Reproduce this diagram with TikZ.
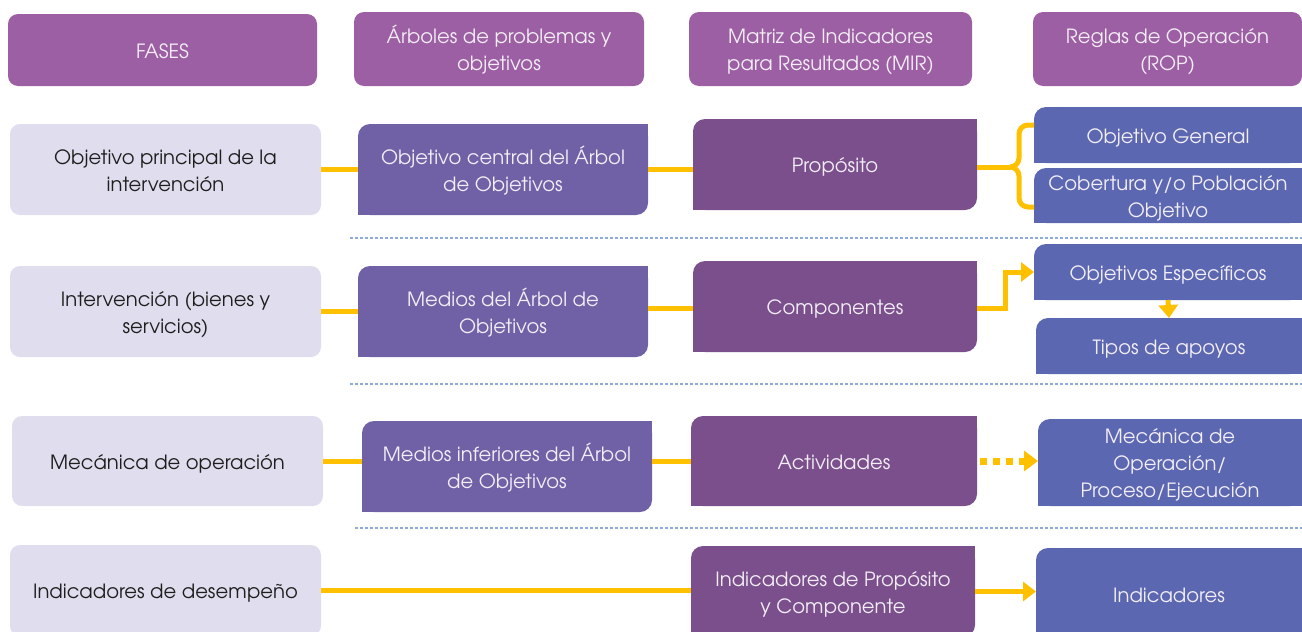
\documentclass[tikz,border=0pt]{standalone}
\usepackage{fontspec}
\setmainfont{texgyreadventor-regular.otf}
\usetikzlibrary{arrows.meta}
\definecolor{hdr}{HTML}{9D5FA3}
\definecolor{lft}{HTML}{E0DEEE}
\definecolor{midc}{HTML}{7060A6}
\definecolor{mirc}{HTML}{7A4F8C}
\definecolor{ropc}{HTML}{5B67B0}
\definecolor{yl}{HTML}{FFC000}
\definecolor{dsh}{HTML}{8EA9DB}
\definecolor{lt}{HTML}{F3EEF6}
\definecolor{dk}{HTML}{1E1E1E}
\newcommand\tx[1]{\raisebox{-3pt}[\height][\depth]{\begin{tabular}{@{}c@{}}#1\end{tabular}}}
\tikzset{
  base/.style={inner sep=0pt, outer sep=0pt, font=\fontsize{19.6}{27}\selectfont},
  hdrbox/.style={base, fill=hdr, rounded corners=10pt, text=lt},
  lftbox/.style={base, fill=lft, rounded corners=10pt, text=dk, minimum width=311pt, minimum height=91pt},
  midbox/.style={base, fill=midc, rounded corners=12pt, text=lt, minimum width=290pt, minimum height=91pt},
  mirbox/.style={base, fill=mirc, rounded corners=12pt, text=lt, minimum width=284pt, minimum height=91pt},
  ropbox/.style={base, fill=ropc, rounded corners=12pt, text=lt},
  conn/.style={draw=yl, line width=5pt},
  arr/.style={conn, -{Triangle[length=13pt,width=19pt]}},
  sep/.style={draw=dsh, line width=1.2pt, dash pattern=on 3pt off 2pt},
}
\newcommand\sqNE[2]{\fill[#2] (#1.north east) rectangle ++(-14,14);}
\newcommand\sqSW[2]{\fill[#2] (#1.south west) rectangle ++(14,-14);}
\newcommand\sqSE[2]{\fill[#2] (#1.south east) rectangle ++(-14,-14);}
\begin{document}
\begin{tikzpicture}[x=1pt,y=-1pt]
\useasboundingbox (0,0) rectangle (1302,632);
\clip (0,0) rectangle (1302,632);
% headers
\node[hdrbox, minimum width=309pt, minimum height=72pt] (h1) at (162.5,50) {\tx{FASES}};
\node[hdrbox, minimum width=290pt, minimum height=74pt] (h2) at (499,49) {\tx{Árboles de problemas y\\objetivos}};
\node[hdrbox, minimum width=283pt, minimum height=74pt] (h3) at (830.5,49) {\tx{Matriz de Indicadores\\para Resultados (MIR)}};
\node[hdrbox, minimum width=269pt, minimum height=74pt] (h4) at (1167.5,49) {\tx{Reglas de Operación\\(ROP)}};
% row 1
\node[lftbox] (L1) at (165.5,169.5) {\tx{Objetivo principal de la\\intervención}};
\node[midbox] (M1) at (503,169.5) {\tx{Objetivo central del Árbol\\de Objetivos}};
\node[mirbox] (P1) at (835,164.5) {\tx{Propósito}};
\node[ropbox, minimum width=268pt, minimum height=56pt] (R1a) at (1168,135) {\tx{Objetivo General}};
\node[ropbox, minimum width=268pt, minimum height=55pt] (R1b) at (1168,195.5) {\tx{Cobertura y/o Población\\Objetivo}};
% row 2
\node[lftbox] (L2) at (165.5,311.5) {\tx{Intervención (bienes y\\servicios)}};
\node[midbox] (M2) at (503,311.5) {\tx{Medios del Árbol de\\Objetivos}};
\node[mirbox] (P2) at (835,306.5) {\tx{Componentes}};
\node[ropbox, minimum width=268pt, minimum height=56pt] (R2a) at (1168,272) {\tx{Objetivos Específicos}};
\node[ropbox, minimum width=266pt, minimum height=56pt] (R2b) at (1169,346) {\tx{Tipos de apoyos}};
% row 3
\node[lftbox, minimum height=90pt] (L3) at (167.5,461) {\tx{Mecánica de operación}};
\node[midbox] (M3) at (507,466.5) {\tx{Medios inferiores del Árbol\\de Objetivos}};
\node[mirbox, minimum width=286pt, minimum height=90pt] (P3) at (834,461) {\tx{Actividades}};
\node[ropbox, minimum width=264pt, minimum height=87pt] (R3) at (1170,462.5) {\tx{Mecánica de\\Operación/\\Proceso/Ejecución}};
% row 4
\node[lftbox] (L4) at (165.5,590.5) {\tx{Indicadores de desempeño}};
\node[mirbox] (P4) at (833,591.5) {\tx{Indicadores de Propósito\\y Componente}};
\node[ropbox, minimum width=266pt, minimum height=92pt] (R4) at (1169,594) {\tx{Indicadores}};
% sharp corners
\foreach \n/\c in {M1/midc,M2/midc,M3/midc,P1/mirc,P2/mirc,P3/mirc,P4/mirc}{\sqNE{\n}{\c}\sqSW{\n}{\c}}
\foreach \n in {R1a,R1b,R2a,R2b,R3,R4}{\sqNE{\n}{ropc}\sqSW{\n}{ropc}\sqSE{\n}{ropc}}
% separators
\coordinate (s1a) at (350,238); \coordinate (s1b) at (1302,238);
\coordinate (s2a) at (350,384); \coordinate (s2b) at (1302,384);
\coordinate (s3a) at (355,528); \coordinate (s3b) at (1302,528);
\draw[sep] (s1a) -- (s1b);
\draw[sep] (s2a) -- (s2b);
\draw[sep] (s3a) -- (s3b);
% row 1 connectors
\draw[conn] (L1.east) -- (M1.west);
\draw[conn] (M1.east) -- (M1.east -| P1.west);
\coordinate (bm) at (1010,167);
\coordinate (bt) at (1034,125);
\coordinate (bb) at (1034,207);
\draw[conn] (P1.east |- bm) -- (bm);
\draw[conn, rounded corners=9pt] (bt) -- (1019,125) -- (1019,167) -- (bm);
\draw[conn, rounded corners=9pt] (bb) -- (1019,207) -- (1019,167) -- (bm);
% row 2
\draw[conn] (L2.east) -- (M2.west);
\draw[conn] (M2.east |- 0,308) -- (P2.west |- 0,308);
\draw[arr] (P2.east |- 0,308) -| (1005,272) -- (R2a.west |- 0,272);
\draw[arr] (R2a.south) -- (R2b.north);
% row 3
\draw[conn] (L3.east) -- (L3.east -| M3.west);
\draw[conn] (M3.east |- P3.west) -- (P3.west);
\draw[conn, line width=7pt, dash pattern=on 7pt off 6pt, -{Triangle[length=14pt,width=20pt]}] ([xshift=3pt]P3.east) -- (P3.east -| R3.west);
% row 4
\draw[conn] (L4.east) -- (L4.east -| P4.west);
\draw[arr] (P4.east) -- (P4.east -| R4.west);
\end{tikzpicture}
\end{document}
